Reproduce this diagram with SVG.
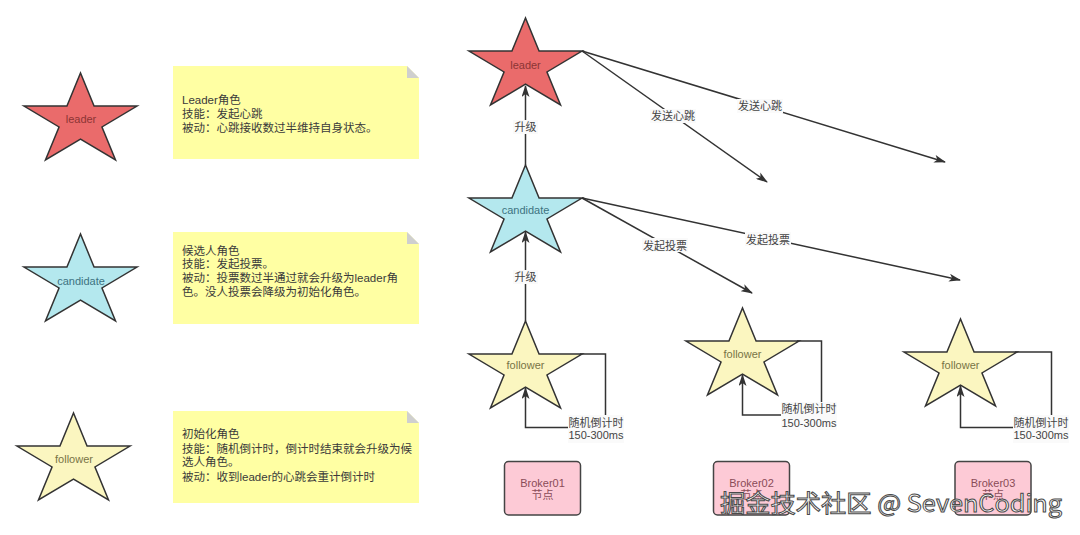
<svg xmlns="http://www.w3.org/2000/svg" xmlns:xlink="http://www.w3.org/1999/xlink" width="1080" height="535" viewBox="0 0 1080 535">
<style>
text{font-family:"Liberation Sans","Noto Sans CJK SC",sans-serif}
.star{stroke:#333;stroke-width:1.5;stroke-linejoin:miter}
.leader{fill:#ea6b6b}
.cand{fill:#b4e8ee}
.foll{fill:#fbf6c0}
.sl{font-size:11px;text-anchor:middle}
.tl{fill:#8c3535}.tc{fill:#3d7381}.tf{fill:#787446}
.note{fill:#ffffa3}
.fold{fill:#cfcfcf}
.nt{font-size:11.5px;fill:#3a3a3a}
.edge{fill:none;stroke:#333;stroke-width:1.5}
.lbg{fill:#fafafa}
.lt{font-size:11px;fill:#444;text-anchor:middle}
.broker{fill:#fdcad6;stroke:#444;stroke-width:1.5}
.bt{font-size:11px;fill:#8a4c58;text-anchor:middle}
</style>
<defs>
<polygon id="starshape" points="0,33.06 42.94,33.06 56.5,0 70.06,33.06 113,33.06 77.97,53.94 91.53,87 56.5,66.12 21.47,87 35.03,53.94"/>
<marker id="arr" viewBox="0 0 12 8" markerWidth="12" markerHeight="8" refX="11" refY="4" orient="auto" markerUnits="userSpaceOnUse">
<path d="M0,0 L12,4 L0,8 L3,4 Z" fill="#333"/>
</marker>
</defs>
<rect width="1080" height="535" fill="#fff"/>

<!-- legend stars -->
<g id="legend-leader">
<use xlink:href="#starshape" href="#starshape" x="24" y="73" class="star leader"/>
<text x="81" y="123" class="sl tl">leader</text>
</g>
<g id="legend-candidate">
<use xlink:href="#starshape" href="#starshape" x="24" y="234" class="star cand"/>
<text x="81" y="285" class="sl tc">candidate</text>
</g>
<g id="legend-follower">
<use xlink:href="#starshape" href="#starshape" x="17" y="413" class="star foll"/>
<text x="74" y="463" class="sl tf">follower</text>
</g>

<!-- notes -->
<g id="note-leader">
<path d="M173,66 H407 L419,78 V159 H173 Z" class="note"/>
<path d="M407,66 V78 H419 Z" class="fold"/>
<text class="nt"><tspan x="182" y="104">Leader角色</tspan><tspan x="182" y="117.5">技能：发起心跳</tspan><tspan x="182" y="131.5">被动：心跳接收数过半维持自身状态。</tspan></text>
</g>
<g id="note-candidate">
<path d="M173,232 H407 L419,244 V324 H173 Z" class="note"/>
<path d="M407,232 V244 H419 Z" class="fold"/>
<text class="nt"><tspan x="182" y="254.5">候选人角色</tspan><tspan x="182" y="268">技能：发起投票。</tspan><tspan x="182" y="282">被动：投票数过半通过就会升级为leader角</tspan><tspan x="182" y="296">色。没人投票会降级为初始化角色。</tspan></text>
</g>
<g id="note-follower">
<path d="M173,411 H407 L419,423 V503 H173 Z" class="note"/>
<path d="M407,411 V423 H419 Z" class="fold"/>
<text class="nt"><tspan x="182" y="438">初始化角色</tspan><tspan x="182" y="452.5">技能：随机倒计时，倒计时结束就会升级为候</tspan><tspan x="182" y="466">选人角色。</tspan><tspan x="182" y="480.5">被动：收到leader的心跳会重计倒计时</tspan></text>
</g>

<!-- connectors -->
<g id="connectors">
<path d="M525.5,165 V86" class="edge" marker-end="url(#arr)"/>
<path d="M525.5,321 V232" class="edge" marker-end="url(#arr)"/>
<path d="M582,51 L767,182" class="edge" marker-end="url(#arr)"/>
<path d="M582,51 L945,162" class="edge" marker-end="url(#arr)"/>
<path d="M582,198 L752,293" class="edge" marker-end="url(#arr)"/>
<path d="M582,198 L960,280" class="edge" marker-end="url(#arr)"/>
<path d="M580,354 H605.5 V427.5 H525.5 V388" class="edge" marker-end="url(#arr)"/>
<path d="M797,341 H821.5 V415 H742.5 V375" class="edge" marker-end="url(#arr)"/>
<path d="M1015,352 H1051.5 V427.5 H960.5 V386" class="edge" marker-end="url(#arr)"/>
<rect x="513" y="120" width="25" height="14" class="lbg"/>
<text x="525.5" y="131" class="lt">升级</text>
<rect x="513" y="270" width="25" height="14" class="lbg"/>
<text x="525.5" y="281" class="lt">升级</text>
<rect x="650" y="109" width="46" height="14" class="lbg"/>
<text x="673" y="120" class="lt">发送心跳</text>
<rect x="737" y="99" width="46" height="14" class="lbg"/>
<text x="760" y="110" class="lt">发送心跳</text>
<rect x="642" y="238" width="46" height="14" class="lbg"/>
<text x="665" y="249.5" class="lt">发起投票</text>
<rect x="745" y="232" width="46" height="14" class="lbg"/>
<text x="768" y="243.5" class="lt">发起投票</text>
<rect x="568" y="415" width="56" height="28" class="lbg"/>
<text class="lt"><tspan x="596" y="426.5">随机倒计时</tspan><tspan x="596" y="439">150-300ms</tspan></text>
<rect x="781" y="402" width="56" height="28" class="lbg"/>
<text class="lt"><tspan x="809" y="413">随机倒计时</tspan><tspan x="809" y="427">150-300ms</tspan></text>
<rect x="1013" y="415" width="56" height="28" class="lbg"/>
<text class="lt"><tspan x="1041" y="426.5">随机倒计时</tspan><tspan x="1041" y="439">150-300ms</tspan></text>
</g>

<!-- main stars -->
<g id="leader">
<use xlink:href="#starshape" href="#starshape" x="469" y="18" class="star leader"/>
<text x="525.5" y="69" class="sl tl">leader</text>
</g>
<g id="candidate">
<use xlink:href="#starshape" href="#starshape" x="469" y="165" class="star cand"/>
<text x="525.5" y="214" class="sl tc">candidate</text>
</g>
<g id="follower1">
<use xlink:href="#starshape" href="#starshape" x="469" y="321" class="star foll"/>
<text x="525.5" y="369" class="sl tf">follower</text>
</g>
<g id="follower2">
<use xlink:href="#starshape" href="#starshape" x="686" y="308" class="star foll"/>
<text x="742.5" y="358" class="sl tf">follower</text>
</g>
<g id="follower3">
<use xlink:href="#starshape" href="#starshape" x="904" y="319" class="star foll"/>
<text x="960.5" y="369" class="sl tf">follower</text>
</g>

<!-- brokers -->
<g id="broker01">
<rect x="504.5" y="461.5" width="76" height="53.5" rx="4" class="broker"/>
<text class="bt"><tspan x="542.5" y="486.5">Broker01</tspan><tspan x="542.5" y="498.5">节点</tspan></text>
</g>
<g id="broker02">
<rect x="713.5" y="461.5" width="76" height="53.5" rx="4" class="broker"/>
<text class="bt"><tspan x="751.5" y="486.5">Broker02</tspan><tspan x="751.5" y="498.5">节点</tspan></text>
</g>
<g id="broker03">
<rect x="955" y="461.5" width="76" height="53.5" rx="4" class="broker"/>
<text class="bt"><tspan x="993" y="486.5">Broker03</tspan><tspan x="993" y="498.5">节点</tspan></text>
</g>

<text x="720" y="512" font-size="24" textLength="342" lengthAdjust="spacingAndGlyphs" fill="#fff" stroke="#4a4a4a" stroke-width="1" style="font-family:'Noto Sans CJK SC','Noto Sans',sans-serif">掘金技术社区 @ SevenCoding</text>
</svg>
